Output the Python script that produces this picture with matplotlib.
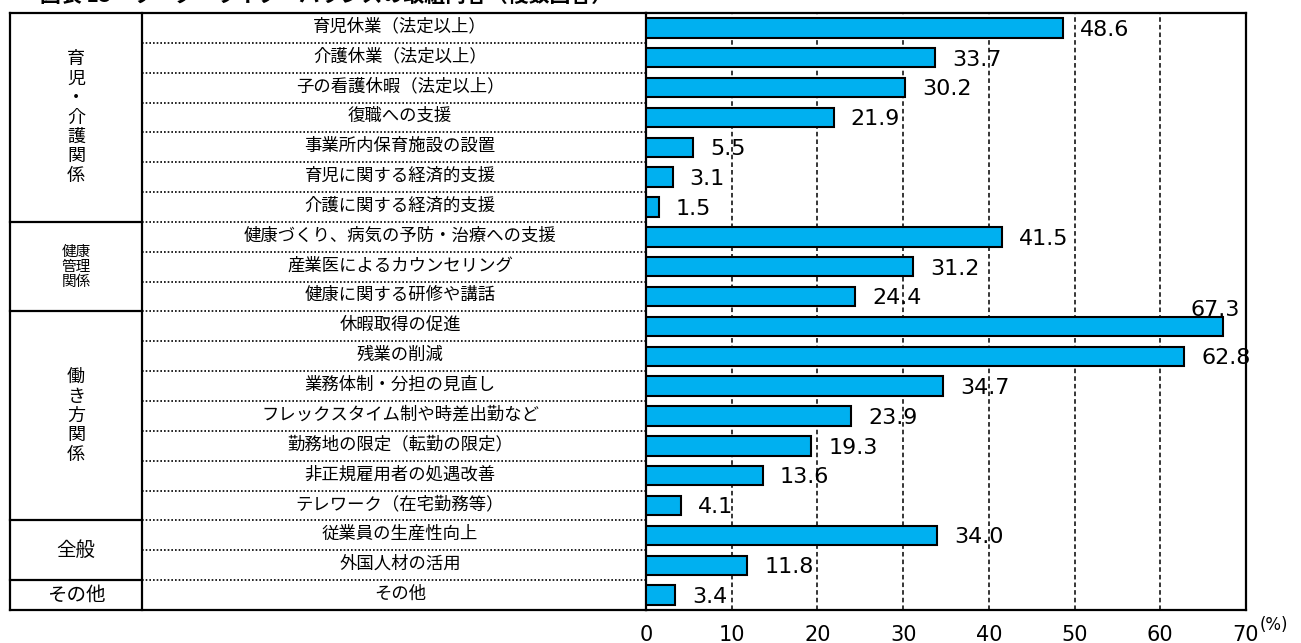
import matplotlib
matplotlib.use('Agg')
import matplotlib.pyplot as plt
from matplotlib.transforms import blended_transform_factory

plt.rcParams['font.family'] = ['Noto Sans CJK JP', 'DejaVu Sans']

# 取組内容と割合(%)
items = ['育児休業（法定以上）', '介護休業（法定以上）', '子の看護休暇（法定以上）',
         '復職への支援', '事業所内保育施設の設置', '育児に関する経済的支援',
         '介護に関する経済的支援',
         '健康づくり、病気の予防・治療への支援', '産業医によるカウンセリング',
         '健康に関する研修や講話',
         '休暇取得の促進', '残業の削減', '業務体制・分担の見直し',
         'フレックスタイム制や時差出勤など', '勤務地の限定（転勤の限定）',
         '非正規雇用者の処遇改善', 'テレワーク（在宅勤務等）',
         '従業員の生産性向上', '外国人材の活用',
         'その他']
values = [48.6, 33.7, 30.2, 21.9, 5.5, 3.1, 1.5,
          41.5, 31.2, 24.4,
          67.3, 62.8, 34.7, 23.9, 19.3, 13.6, 4.1,
          34.0, 11.8,
          3.4]
groups = ['育\n児\n・\n介\n護\n関\n係', '健康\n管理\n関係', '働\nき\n方\n関\n係', '全般', 'その他']
group_sizes = [7, 3, 7, 2, 1]
group_fs = [13, 10.5, 13, 14, 14]
ticks = [0, 10, 20, 30, 40, 50, 60, 70]
title = '図表 13　ワーク・ライフ・バランスの取組内容（複数回答）'

W, H = 1301, 643
fig = plt.figure(figsize=(W / 100, H / 100), dpi=100)
ax = fig.add_axes([646 / W, 33 / H, 600 / W, 597 / H])

n = len(items)
ax.set_xlim(0, 70)
ax.set_ylim(n - 0.5, -0.5)
ax.barh(range(n), values, height=0.65, color='#00B0F0', edgecolor='black',
        linewidth=1.5, zorder=3)

for x in ticks[1:-1]:
    ax.axvline(x, color='black', lw=1.1, ls=(0, (3, 2)), zorder=1)

for s in ax.spines.values():
    s.set_linewidth(1.6)
ax.set_yticks([])
ax.set_xticks(ticks)
ax.tick_params(axis='x', length=0, pad=11)
for lab in ax.get_xticklabels():
    lab.set_fontfamily('DejaVu Sans')
    lab.set_fontsize(15)

# 数値ラベル(最大値だけは棒の上に置く)
vmax = max(values)
for i, v in enumerate(values):
    if v == vmax:
        ax.text(v - 0.9, i - 0.36, f'{v:.1f}', ha='center', va='baseline',
                fontsize=16, fontfamily='DejaVu Sans', zorder=4)
    else:
        ax.text(v + 2.0, i + 0.06, f'{v:.1f}', ha='left', va='center',
                fontsize=16, fontfamily='DejaVu Sans', zorder=4)

# 左側の表
tr = blended_transform_factory(fig.transFigure, ax.transData)
x0, x1, x2 = 10 / W, 142 / W, 646 / W
top, bot = -0.5, n - 0.5
kw = dict(transform=tr, clip_on=False, color='black', lw=1.6)
ax.plot([x0, x2], [top, top], **kw)
ax.plot([x0, x2], [bot, bot], **kw)
ax.plot([x0, x0], [top, bot], **kw)
ax.plot([x1, x1], [top, bot], **kw)

for i in range(n - 1):
    ax.plot([x1, x2], [i + 0.5, i + 0.5], transform=tr, clip_on=False,
            color='black', lw=1.2, ls=(0, (1, 1.2)))

for i, name in enumerate(items):
    ax.text(400 / W, i - 0.05, name, transform=tr, ha='center', va='center',
            fontsize=12.5)

start = 0
for g, size, fs in zip(groups, group_sizes, group_fs):
    end = start + size
    if end < n:
        ax.plot([x0, x1], [end - 0.5, end - 0.5], **kw)
    ax.text(76 / W, (start + end - 1) / 2, g, transform=tr, ha='center',
            va='center', fontsize=fs, linespacing=1.1)
    start = end

fig.text(1260 / W, (643 - 625) / H, '(%)', fontsize=12, ha='left', va='center',
         fontfamily='DejaVu Sans')
fig.text(40 / W, 1 - 2 / H, title, fontsize=15, fontweight='bold', va='baseline')

fig.savefig('out.png', dpi=100)
